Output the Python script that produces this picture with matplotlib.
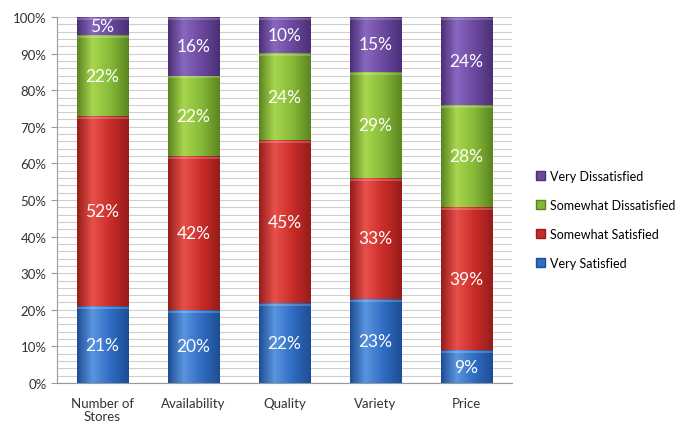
import matplotlib
matplotlib.use("Agg")
import matplotlib.pyplot as plt
import numpy as np
from matplotlib.colors import LinearSegmentedColormap
from matplotlib.patches import Patch

plt.rcParams["font.family"] = ["Lato", "DejaVu Sans"]

categories = ["Number of\nStores", "Availability", "Quality", "Variety", "Price"]
series = ["Very Satisfied", "Somewhat Satisfied", "Somewhat Dissatisfied", "Very Dissatisfied"]
very_satisfied = [21, 20, 22, 23, 9]
somewhat_satisfied = [52, 42, 45, 33, 39]
somewhat_dissatisfied = [22, 22, 24, 29, 28]
very_dissatisfied = [5, 16, 10, 15, 24]
values = [very_satisfied, somewhat_satisfied, somewhat_dissatisfied, very_dissatisfied]

# (dark edge, highlight, mid) per series
SHADES = [
    ("#1d4d94", "#5a95e0", "#2f6cc2"),
    ("#961c1a", "#e8504a", "#c92c28"),
    ("#5b8420", "#a8d64e", "#86b938"),
    ("#4a2f76", "#8a67bf", "#6b489e"),
]

fig = plt.figure(figsize=(6.84, 4.27), dpi=100)
ax = fig.add_axes([57 / 684, 43 / 427, 455 / 684, 366 / 427])

x = np.arange(len(categories))
width = 0.57
# 100% stacked: scale each column to its total
totals = np.sum(np.array(values, dtype=float), axis=0)
bottom = np.zeros(len(categories))
grad = np.linspace(0, 1, 256).reshape(1, -1)

for vals, name, (dark, light, mid) in zip(values, series, SHADES):
    vals = np.array(vals, dtype=float)
    shares = vals / totals * 100
    bars = ax.bar(x, shares, width, bottom=bottom, color=mid, edgecolor=dark,
                  linewidth=0.6, label=name, zorder=3)
    cmap = LinearSegmentedColormap.from_list(
        name, [(0, dark), (0.3, light), (0.65, mid), (1, dark)])
    for b in bars:
        bx, by = b.get_x(), b.get_y()
        bw, bh = b.get_width(), b.get_height()
        im = ax.imshow(grad, cmap=cmap, aspect="auto",
                       extent=[bx, bx + bw, by, by + bh], zorder=3.5)
        im.set_clip_path(b)
        # thin highlight at the top of each segment
        ax.plot([bx + 0.01, bx + bw - 0.01], [by + bh - 0.5, by + bh - 0.5],
                color="white", alpha=0.25, lw=1.2, zorder=4)
    for xi, v, s, b0 in zip(x, vals, shares, bottom):
        ax.text(xi, b0 + s / 2, f"{v:.0f}%", ha="center", va="center",
                color="white", fontsize=12.5, zorder=5)
    bottom += shares

ax.set_xlim(-0.5, len(categories) - 0.5)
ax.set_ylim(0, 100)
ax.set_yticks(np.arange(0, 101, 10))
ax.set_yticklabels([f"{v}%" for v in range(0, 101, 10)], fontsize=9.5, color="#333333")
ax.set_yticks(np.arange(0, 101, 2), minor=True)
ax.grid(axis="y", which="both", color="#cfcfcf", lw=0.8, zorder=0)
ax.tick_params(axis="y", which="major", length=4, color="#999999")
ax.tick_params(axis="y", which="minor", length=0)
ax.set_xticks(x)
ax.set_xticklabels(categories, fontsize=9.5, color="#333333", linespacing=1.15)
ax.tick_params(axis="x", length=0, pad=10)
for s in ["top", "right"]:
    ax.spines[s].set_visible(False)
for s in ["left", "bottom"]:
    ax.spines[s].set_color("#999999")

handles = [Patch(facecolor=SHADES[i][2], edgecolor=SHADES[i][0]) for i in range(4)][::-1]
fig.legend(handles, series[::-1], loc="center left", bbox_to_anchor=(536 / 684, 0.4836),
           frameon=False, fontsize=9, labelspacing=1.35, handlelength=0.7,
           handleheight=0.7, handletextpad=0.4, borderaxespad=0, borderpad=0)

fig.savefig("out.png", dpi=100)
